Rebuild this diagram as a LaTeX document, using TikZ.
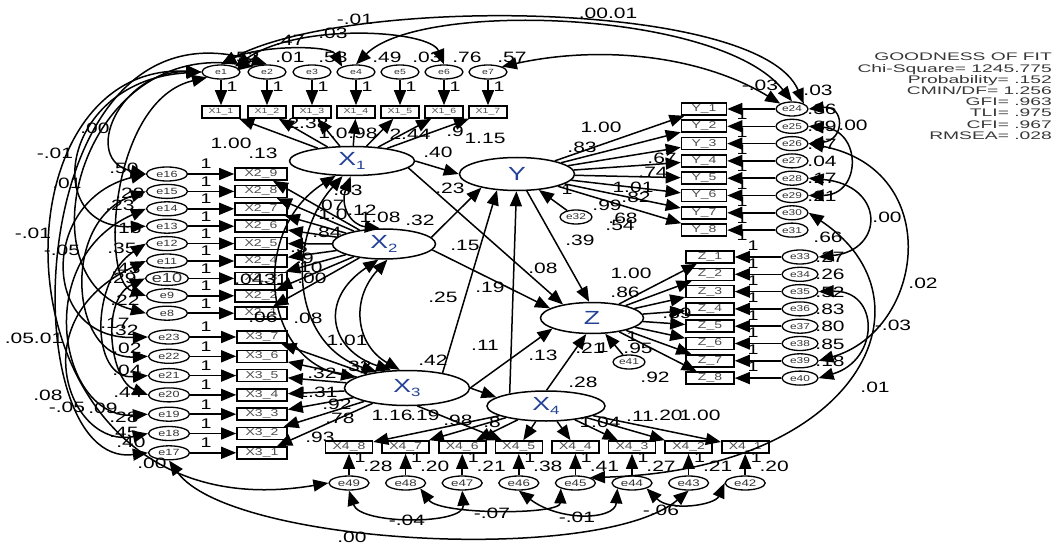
\documentclass[tikz,border=0pt]{standalone}
\usepackage{fontspec}
\setmainfont[FakeStretch=1.4]{Liberation Sans}
\newfontfamily\goffont[FakeStretch=1.75]{Liberation Sans}
\usetikzlibrary{shapes.geometric,arrows.meta}
\definecolor{latblue}{RGB}{35,65,150}
\definecolor{gofgray}{RGB}{55,55,55}
\newcommand\lsub[1]{\raisebox{-0.45ex}{\fontsize{12}{12}\selectfont #1}}
\newcommand\errfont[1]{\ifnum#1=10 \fontsize{13}{13}\selectfont\else\fontsize{9}{10}\selectfont\fi}
\begin{document}
\begin{tikzpicture}[x=1pt,y=-1pt,
  obs/.style={draw,line width=1.6pt,minimum height=12pt,inner sep=0pt,fill=white,font=\fontsize{10}{10}\selectfont,text=black!70},
  err/.style={ellipse,draw,line width=1.3pt,minimum width=38pt,minimum height=14pt,inner sep=0pt,fill=white,font=\fontsize{8.5}{9}\selectfont,text=black!80},
  lat/.style={ellipse,draw,line width=1.5pt,fill=white,inner sep=0pt,font=\fontsize{19}{20}\selectfont,text=latblue},
  pa/.style={line width=1.5pt,-{Triangle[length=15pt,width=12pt]}},
  cv/.style={line width=1.5pt,{Triangle[length=15pt,width=12pt]}-{Triangle[length=15pt,width=12pt]}},
  lb/.style={font=\fontsize{15}{16}\selectfont,inner sep=0pt},
  one/.style={font=\fontsize{14}{15}\selectfont,inner sep=0pt},
]
\useasboundingbox (0,0) rectangle (1054,545);

% ---------------- latent variables
\node[lat,minimum width=125pt,minimum height=29pt] (X1) at (352,161) {X\lsub{1}};
\node[lat,minimum width=115pt,minimum height=33pt] (Y) at (517,174) {Y};
\node[lat,minimum width=103pt,minimum height=30pt] (X2) at (384,244) {X\lsub{2}};
\node[lat,minimum width=103pt,minimum height=31pt] (Z) at (592,318) {Z};
\node[lat,minimum width=125pt,minimum height=35pt] (X3) at (407,388) {X\lsub{3}};
\node[lat,minimum width=118pt,minimum height=30pt] (X4) at (546,406) {X\lsub{4}};

% ---------------- indicators and errors
\foreach \i/\x in {1/221,2/267,3/312,4/356,5/400,6/444,7/488}{
  \node[obs,minimum width=38pt,font=\fontsize{7.5}{8}\selectfont] (x1\i) at (\x,112) {X1\_\i};
  \node[err,font=\fontsize{7.5}{8}\selectfont] (e\i) at (\x,72) {e\i};
}
\foreach \i [evaluate=\i as \yy using 109+17.3*(\i-1), evaluate=\i as \ee using int(23+\i)] in {1,...,8}{
  \node[obs,minimum width=45pt] (y\i) at (704,\yy) {Y\_\i};
  \node[err,minimum width=32pt] (e\ee) at (792,\yy) {e\ee};
}
\foreach \i [evaluate=\i as \yy using 257+17.3*(\i-1), evaluate=\i as \ee using int(32+\i)] in {1,...,8}{
  \node[obs,minimum width=48pt] (z\i) at (710,\yy) {Z\_\i};
  \node[err,minimum width=36pt] (e\ee) at (800,\yy) {e\ee};
}
\foreach \k [evaluate=\k as \yy using 174+17.4*(9-\k), evaluate=\k as \ee using int(\k+7)] in {9,...,1}{
  \node[obs,minimum width=52pt] (x2\k) at (261,\yy) {X2\_\k};
  \node[err,minimum width=41pt] (e\ee) at (167,\yy) {\errfont{\ee}e\ee};
}
\foreach \k [evaluate=\k as \yy using 337+19.3*(7-\k), evaluate=\k as \ee using int(\k+16)] in {7,...,1}{
  \node[obs,minimum width=50pt] (x3\k) at (262,\yy) {X3\_\k};
  \node[err,minimum width=41pt,font=\fontsize{9}{10}\selectfont] (e\ee) at (169,\yy) {e\ee};
}
\foreach \k [evaluate=\k as \xx using 349+56.6*(8-\k), evaluate=\k as \ee using int(\k+41)] in {8,...,1}{
  \node[obs,minimum width=47pt] (x4\k) at (\xx,447) {X4\_\k};
  \node[err,minimum width=40pt,font=\fontsize{9.5}{10}\selectfont] (e\ee) at (\xx,483) {e\ee};
}
\node[err,minimum width=32pt] (e32) at (576,217) {e32};
\node[err,minimum width=32pt] (e41) at (629,362) {e41};

% ---------------- measurement paths
\foreach \i/\x in {1/221,2/267,3/312,4/356,5/400,6/444,7/488}{
  \draw[pa] (e\i) -- (x1\i);
  \draw[pa] (X1) -- (x1\i);
  \node[one] at (\x+11,87) {1};
}
\foreach \i [evaluate=\i as \yy using 109+17.3*(\i-1), evaluate=\i as \ee using int(23+\i)] in {1,...,8}{
  \draw[pa] (e\ee) -- (y\i);
  \draw[pa] (Y) -- (y\i);
  \node[one] at (742,\yy+6) {1};
}
\foreach \i [evaluate=\i as \yy using 257+17.3*(\i-1), evaluate=\i as \ee using int(32+\i)] in {1,...,8}{
  \draw[pa] (e\ee) -- (z\i);
  \draw[pa] (Z) -- (z\i);
  \node[one] at (753,\yy-11) {1};
}
\foreach \k [evaluate=\k as \yy using 174+17.4*(9-\k), evaluate=\k as \ee using int(\k+7)] in {9,...,1}{
  \draw[pa] (e\ee) -- (x2\k);
  \draw[pa] (X2) -- (x2\k);
  \node[one] at (206,\yy-10) {1};
}
\foreach \k [evaluate=\k as \yy using 337+19.3*(7-\k), evaluate=\k as \ee using int(\k+16)] in {7,...,1}{
  \draw[pa] (e\ee) -- (x3\k);
  \draw[pa] (X3) -- (x3\k);
  \node[one] at (206,\yy-10) {1};
}
\foreach \k/\v [evaluate=\k as \xx using 349+56.6*(8-\k), evaluate=\k as \ee using int(\k+41)] in {8/.28,7/.20,6/.21,5/.38,4/.41,3/.27,2/.21,1/.20}{
  \draw[pa] (e\ee) -- (x4\k);
  \draw[pa] (X4) -- (x4\k);
  \node[one] at (\xx+11,458) {1};
  \node[lb] at (\xx+29,466) {\v};
}
\draw[pa] (X3.300) -- (x45);
\draw[pa] (e32) -- (Y);
\draw[pa] (e41) -- (Z);

% ---------------- structural paths
\draw[pa] (X1.east) -- (Y.west);
\draw[pa] (X1.353) -- (Z.155);
\draw[pa] (X2.8) -- (Y.201);
\draw[pa] (X2.353) -- (Z.167);
\draw[pa] (X3.23) -- (Y.219);
\draw[pa] (X4.161) -- (Y.268);
\draw[pa] (Y.300) -- (Z.100);
\draw[pa] (X3.east) -- (Z.195);
\draw[pa] (X4.88) -- (Z.250);
\draw[pa] (X3.east) -- (X4.170);

% ---------------- latent covariances
\draw[cv] (X1.265) .. controls (340,205) and (350,225) .. (X2.105);
\draw[cv] (X1.222) .. controls (250,230) and (262,360) .. (X3.168);
\draw[cv] (X1.238) .. controls (285,240) and (292,345) .. (X3.152);
\draw[cv] (X2.250) .. controls (318,300) and (330,350) .. (X3.132);
\draw[cv] (X2.282) .. controls (350,300) and (356,345) .. (X3.112);

% ---------------- error covariances: top
\draw[cv] (e1.north) .. controls (350,-5) and (760,0) .. (e24.north east);
\draw[cv] (e4.north) .. controls (420,0) and (720,10) .. (e24.north);
\draw[cv] (e7.north east) .. controls (600,45) and (700,55) .. (e24.north west);
\draw[cv] (e1.north) .. controls (260,45) and (330,45) .. (e4.north west);
\draw[cv] (e1.north east) .. controls (300,22) and (430,30) .. (e6.north);
% right
\draw[cv] (e24.east) .. controls (845,105) and (845,140) .. (e26.east);
\draw[cv] (e25.east) .. controls (862,130) and (862,195) .. (e29.east);
\draw[cv] (e28.east) .. controls (885,185) and (885,250) .. (e33.east);
\draw[cv] (e26.east) .. controls (945,170) and (925,330) .. (e39.east);
\draw[cv] (e35.east) .. controls (880,290) and (880,360) .. (e40.east);
\draw[cv] (e30.east) .. controls (940,300) and (860,470) .. (e45.north east);
% bottom
\draw[cv] (e49.south) .. controls (360,525) and (465,525) .. (e47.south);
\draw[cv] (e48.south east) .. controls (440,515) and (560,515) .. (e45.south west);
\draw[cv] (e46.south) .. controls (560,522) and (615,520) .. (e44.south west);
\draw[cv] (e44.south east) .. controls (670,512) and (715,505) .. (e42.west);
\draw[cv] (e17.south) .. controls (230,545) and (600,565) .. (e43.south);
% left
\draw[cv] (e1.west) .. controls (120,70) and (80,160) .. (e16.west);
\draw[cv] (e1.west) .. controls (60,80) and (40,230) .. (e13.west);
\draw[cv] (e2.north west) .. controls (80,40) and (20,280) .. (e8.west);
\draw[cv] (e1.south west) .. controls (110,100) and (100,280) .. (e9.west);
\draw[cv] (e15.west) .. controls (60,220) and (70,360) .. (e22.west);
\draw[cv] (e14.west) .. controls (30,260) and (60,420) .. (e19.west);
\draw[cv] (e12.west) .. controls (90,280) and (90,380) .. (e21.west);
\draw[cv] (e11.west) .. controls (20,320) and (70,450) .. (e18.west);
\draw[cv] (e1.west) .. controls (-20,60) and (-10,540) .. (e49.west);
\draw[cv] (e2.north) .. controls (20,-10) and (10,470) .. (e17.west);
\draw[cv] (e16.west) .. controls (40,200) and (40,340) .. (e23.west);
\draw[cv] (e10.west) .. controls (100,300) and (110,380) .. (e20.west);

% ---------------- labels: X1 block
\node[lb] at (245,57) {.52};
\node[lb] at (290,57) {.01};
\node[lb] at (333,57) {.53};
\node[lb] at (387,57) {.49};
\node[lb] at (427,57) {.03};
\node[lb] at (467,57) {.76};
\node[lb] at (512,57) {.57};
\node[lb] at (290,40) {.47};
\node[lb] at (333,33) {.03};
\node[lb] at (355,19) {-.01};
\node[lb] at (231,143) {1.00};
\node[lb] at (263,153) {.13};
\node[lb] at (308,123) {2.38};
\node[lb] at (333,133) {1.0};
\node[lb] at (363,133) {.98};
\node[lb] at (410,134) {2.44};
\node[lb] at (455,131) {.9};
\node[lb] at (485,138) {1.15};
% top / right
\node[lb] at (608,13) {.00.01};
\node[lb] at (760,85) {-.03};
\node[lb] at (818,90) {.03};
\node[lb] at (822,109) {.36};
\node[lb] at (822,126) {.89};
\node[lb] at (853,125) {.00};
\node[lb] at (822,144) {.37};
\node[lb] at (822,161) {.04};
\node[lb] at (822,178) {.17};
\node[lb] at (822,196) {.21};
\node[lb] at (887,217) {.00};
\node[lb] at (828,237) {.66};
\node[lb] at (923,283) {.02};
\node[lb] at (893,325) {-.03};
\node[lb] at (875,387) {.01};
\node[lb] at (830,257) {.27};
\node[lb] at (830,274) {.26};
\node[lb] at (830,292) {.52};
\node[lb] at (830,309) {.83};
\node[lb] at (830,326) {.80};
\node[lb] at (830,344) {.85};
\node[lb] at (830,361) {.18};
% Y loadings
\node[lb] at (601,127) {1.00};
\node[lb] at (582,147) {.83};
\node[lb] at (662,158) {.67};
\node[lb] at (653,172) {.74};
\node[lb] at (633,187) {1.01};
\node[lb] at (636,197) {.82};
\node[lb] at (607,205) {.99};
\node[lb] at (623,218) {.68};
\node[lb] at (620,225) {.54};
\node[one] at (567,190) {1};
% Z loadings
\node[lb] at (631,273) {1.00};
\node[lb] at (625,292) {.86};
\node[lb] at (677,313) {.89};
\node[one] at (632,337) {1};
\node[one] at (603,348) {1};
\node[lb] at (638,348) {.95};
\node[lb] at (655,377) {.92};
% structural
\node[lb] at (438,152) {.40};
\node[lb] at (450,188) {.23};
\node[lb] at (420,220) {.32};
\node[lb] at (465,245) {.15};
\node[lb] at (490,287) {.19};
\node[lb] at (443,297) {.25};
\node[lb] at (543,268) {.08};
\node[lb] at (580,240) {.39};
\node[lb] at (485,345) {.11};
\node[lb] at (543,355) {.13};
\node[lb] at (433,360) {.42};
\node[lb] at (590,348) {.21};
\node[lb] at (583,382) {.28};
% X2 loadings
\node[lb] at (348,190) {.83};
\node[lb] at (330,205) {.07};
\node[lb] at (362,210) {.12};
\node[lb] at (333,214) {1.0};
\node[lb] at (380,217) {1.08};
\node[lb] at (327,232) {.84};
\node[lb] at (299,247) {.3};
\node[lb] at (305,258) {.9};
\node[lb] at (308,267) {.10};
\node[lb] at (312,278) {.00};
\node[lb] at (249,279) {.04};
\node[lb] at (273,279) {.31};
\node[lb] at (263,317) {.06};
\node[lb] at (308,318) {.08};
% X3 loadings
\node[lb] at (347,340) {1.01};
\node[lb] at (357,366) {.33};
\node[lb] at (322,373) {.32};
\node[lb] at (317,392) {1.31};
\node[lb] at (337,404) {.92};
\node[lb] at (340,418) {.78};
\node[lb] at (320,437) {.93};
% X4 loadings
\node[lb] at (392,415) {1.16};
\node[lb] at (425,415) {.19};
\node[lb] at (458,420) {.98};
\node[lb] at (492,422) {.8};
\node[lb] at (600,422) {1.04};
\node[lb] at (640,416) {.11};
\node[lb] at (668,415) {.20};
\node[lb] at (700,415) {1.00};
% bottom
\node[lb] at (407,520) {-.04};
\node[lb] at (492,513) {-.07};
\node[lb] at (577,517) {-.01};
\node[lb] at (661,510) {-.06};
\node[lb] at (352,537) {.00};
% left
\node[lb] at (95,128) {.00};
\node[lb] at (55,153) {-.01};
\node[lb] at (67,183) {.01};
\node[lb] at (33,233) {-.01};
\node[lb] at (62,250) {-.05};
\node[lb] at (124,168) {.50};
\node[lb] at (130,193) {.29};
\node[lb] at (120,205) {.23};
\node[lb] at (127,228) {.16};
\node[lb] at (122,248) {.35};
\node[lb] at (126,268) {.43};
\node[lb] at (122,278) {.29};
\node[lb] at (125,300) {.22};
\node[lb] at (115,323) {.17};
\node[lb] at (124,330) {.32};
\node[lb] at (34,338) {.05.01};
\node[lb] at (127,348) {.02};
\node[lb] at (127,370) {.04};
\node[lb] at (128,392) {.44};
\node[lb] at (48,395) {.08};
\node[lb] at (67,407) {-.05};
\node[lb] at (103,408) {.09};
\node[lb] at (124,417) {.28};
\node[lb] at (124,432) {.45};
\node[lb] at (131,442) {.40};
\node[lb] at (152,463) {.00};

% ---------------- fit statistics
\foreach \t [count=\n from 0] in {GOODNESS OF FIT,Chi-Square= 1245.775,Probability= .152,CMIN/DF= 1.256,GFI= .963,TLI= .975,CFI= .967,RMSEA= .028}{
  \node[anchor=base east,inner sep=0pt,font=\goffont\fontsize{11}{12}\selectfont,text=gofgray] at (1052,61+11.2*\n) {\t};
}
\end{tikzpicture}
\end{document}
